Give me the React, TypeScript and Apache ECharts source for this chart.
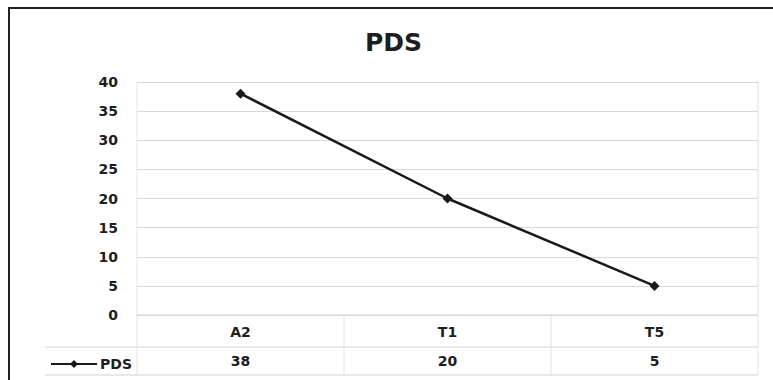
import React, { useEffect, useRef } from "react";
import * as echarts from "echarts";

const categories = ["A2", "T1", "T5"];
const pdsValues = [38, 20, 5];
const seriesName = "PDS";

const GRID_LEFT = 137;
const GRID_RIGHT = 758;
const GRID_TOP = 82;
const GRID_BOTTOM = 315;
const ROW1_BOTTOM = 347;
const ROW2_BOTTOM = 375;

export default function App() {
  const ref = useRef<HTMLDivElement>(null);

  useEffect(() => {
    if (!ref.current) return;
    const chart = echarts.init(ref.current, undefined, { renderer: "svg" });
    const font = "'DejaVu Sans', 'Open Sans', sans-serif";
    const tableLine = { stroke: "#d2d2d2", lineWidth: 1 };
    const colW = (GRID_RIGHT - GRID_LEFT) / categories.length;

    const tableLines: any[] = [
      // horizontal rules of the data table
      { type: "line", shape: { x1: GRID_LEFT, y1: GRID_BOTTOM, x2: GRID_RIGHT, y2: GRID_BOTTOM }, style: tableLine },
      { type: "line", shape: { x1: 45, y1: ROW1_BOTTOM, x2: GRID_RIGHT, y2: ROW1_BOTTOM }, style: tableLine },
      { type: "line", shape: { x1: 45, y1: ROW2_BOTTOM, x2: GRID_RIGHT, y2: ROW2_BOTTOM }, style: tableLine },
      // vertical rules
      { type: "line", shape: { x1: GRID_LEFT, y1: GRID_TOP, x2: GRID_LEFT, y2: ROW2_BOTTOM }, style: { stroke: "#e2e2e2", lineWidth: 1 } },
      { type: "line", shape: { x1: GRID_RIGHT, y1: GRID_TOP, x2: GRID_RIGHT, y2: ROW2_BOTTOM }, style: { stroke: "#e2e2e2", lineWidth: 1 } },
    ];
    for (let i = 1; i < categories.length; i++) {
      const x = GRID_LEFT + colW * i;
      tableLines.push({ type: "line", shape: { x1: x, y1: GRID_BOTTOM, x2: x, y2: ROW2_BOTTOM }, style: { stroke: "#e0e0e0", lineWidth: 1 } });
    }

    const labelStyle = { fontFamily: font, fontSize: 14, fontWeight: "bold", color: "#1e1e1e" };

    chart.setOption({
      animation: false,
      backgroundColor: "#ffffff",
      title: {
        text: "PDS",
        left: 360,
        top: 25,
        textStyle: { fontFamily: font, fontSize: 25, fontWeight: "bold", color: "#1e1e1e" },
      },
      legend: {
        left: 45,
        top: 352,
        itemWidth: 46,
        itemHeight: 10,
        itemGap: 4,
        data: [seriesName],
        textStyle: { ...labelStyle, padding: [0, 0, 0, -2] },
      },
      grid: {
        left: GRID_LEFT,
        top: GRID_TOP,
        width: GRID_RIGHT - GRID_LEFT,
        height: GRID_BOTTOM - GRID_TOP,
      },
      xAxis: [
        {
          type: "category",
          data: categories,
          boundaryGap: true,
          axisLine: { show: false },
          axisTick: { show: false },
          axisLabel: { margin: 10, ...labelStyle },
        },
        {
          type: "category",
          data: categories,
          position: "bottom",
          offset: 29,
          boundaryGap: true,
          axisLine: { show: false },
          axisTick: { show: false },
          axisLabel: {
            margin: 10,
            ...labelStyle,
            formatter: (_v: string, idx: number) => String(pdsValues[idx]),
          },
        },
      ],
      yAxis: {
        type: "value",
        min: 0,
        max: 40,
        interval: 5,
        axisLine: { show: false },
        axisTick: { show: false },
        axisLabel: { margin: 19, ...labelStyle },
        splitLine: { lineStyle: { color: "#d9d9d9", width: 1 } },
      },
      series: [
        {
          name: seriesName,
          type: "line",
          data: pdsValues,
          xAxisIndex: 0,
          symbol: "diamond",
          symbolSize: 10,
          lineStyle: { color: "#1a1a1a", width: 2.5 },
          itemStyle: { color: "#1a1a1a" },
        },
      ],
      graphic: [
        ...tableLines,
        {
          type: "rect",
          shape: { x: 9, y: 8, width: 820, height: 420 },
          style: { fill: "none", stroke: "#222222", lineWidth: 2 },
          z: 100,
        },
      ],
    });

    return () => chart.dispose();
  }, []);

  return (
    <div
      ref={ref}
      style={{ position: "fixed", left: 0, top: 0, width: 773, height: 380 }}
    />
  );
}
